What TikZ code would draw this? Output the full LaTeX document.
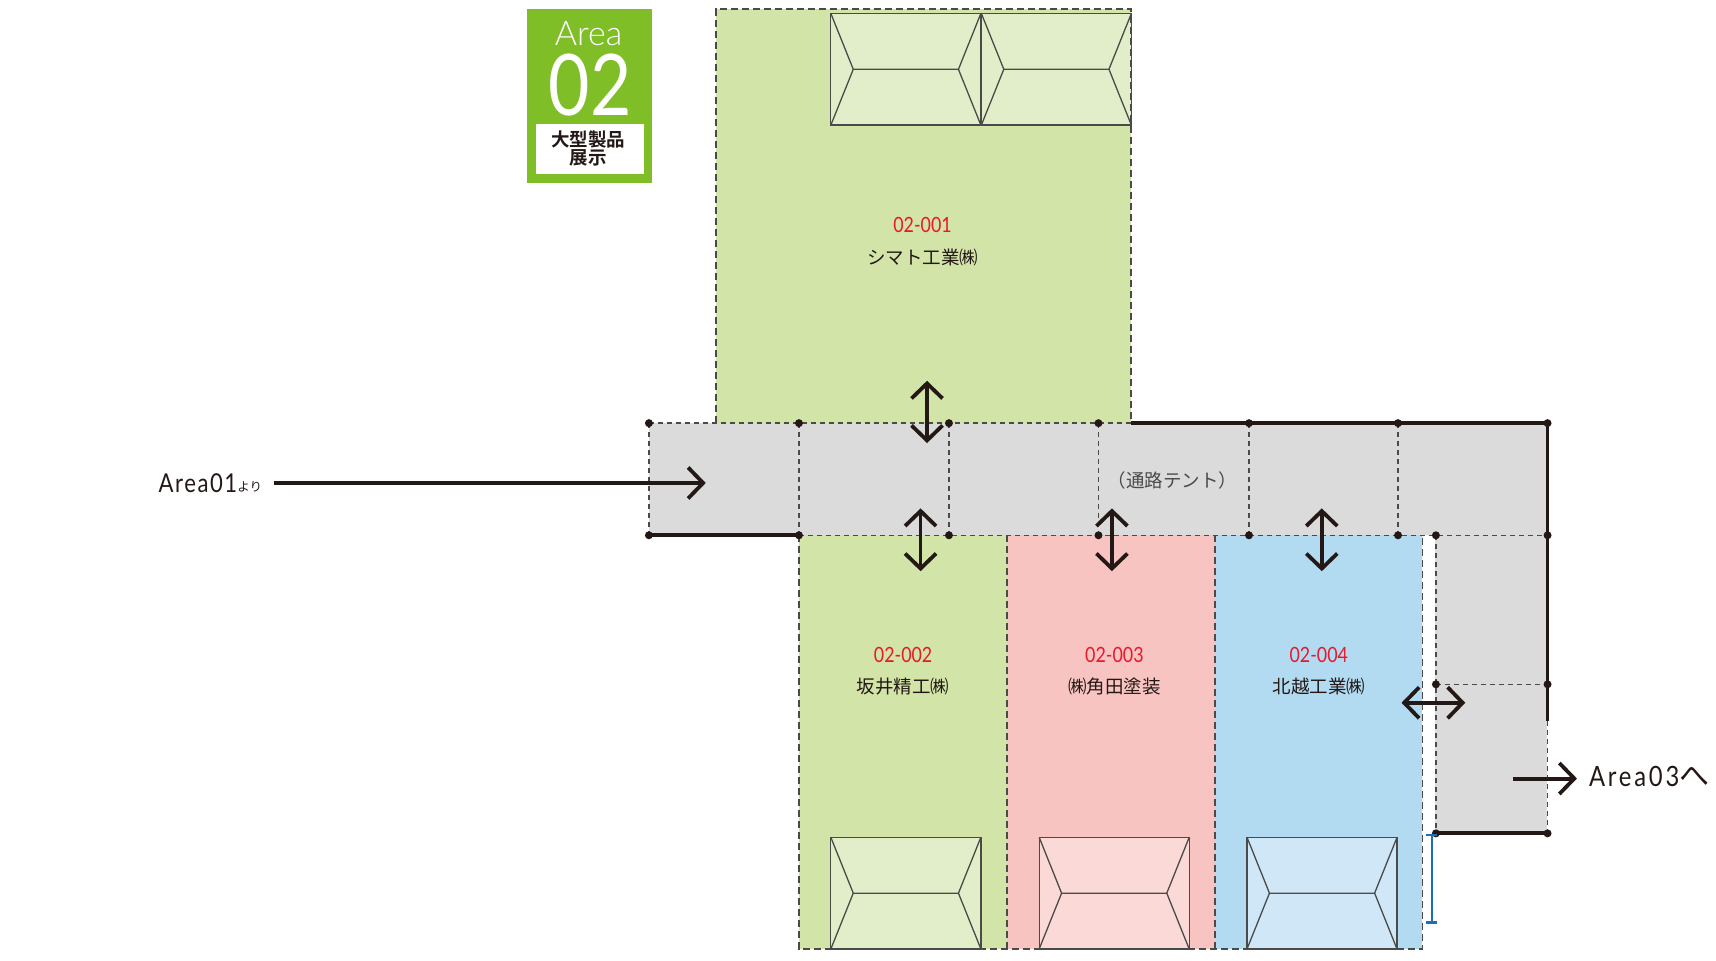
\documentclass[tikz,border=0pt]{standalone}
\usepackage{fontspec}
\usetikzlibrary{arrows.meta}
\setmainfont{Lato}
\newfontfamily\din{Lato Light}
\newfontfamily\dinB{Lato}[FakeStretch=0.84]
\newfontfamily\dinN{Lato}[FakeStretch=0.85]
\newfontfamily\dinC{Lato}[FakeStretch=0.85,LetterSpace=6]
\newfontfamily\dinW{Lato}[FakeStretch=0.85,LetterSpace=10]
\newfontfamily\jp{Noto Sans CJK JP}
\newfontfamily\jpb{Noto Sans CJK JP Bold}
\definecolor{ink}{HTML}{231815}
\definecolor{dashc}{HTML}{4A4A48}
\definecolor{boothg}{HTML}{D2E4A8}
\definecolor{boothp}{HTML}{F7C4C1}
\definecolor{boothb}{HTML}{B2DBF2}
\definecolor{tentg}{HTML}{E2EEC9}
\definecolor{tentp}{HTML}{FAD9D6}
\definecolor{tentb}{HTML}{CFE7F6}
\definecolor{corr}{HTML}{DBDBDB}
\definecolor{badge}{HTML}{7FBE26}
\definecolor{codered}{HTML}{E8192C}
\definecolor{bluebar}{HTML}{1C6FB8}
\tikzset{
  x=0.9968pt,y=-0.9968pt,
  dashline/.style={draw=dashc,line width=1.4pt,dash pattern=on 5pt off 4pt},
  boothline/.style={draw=dashc,line width=1.8pt,dash pattern=on 7pt off 4pt},
  thickline/.style={draw=ink,line width=3.8pt},
  dotmark/.style={circle,fill=ink,inner sep=0pt,minimum size=8pt},
  tentline/.style={draw=dashc,line width=1.3pt},
  flow/.style={draw=ink,line width=4pt,-{Straight Barb[length=15pt,width=31pt,line width=3.8pt]}},
  flowboth/.style={draw=ink,line width=3.8pt,{Straight Barb[length=15pt,width=31pt,line width=3.8pt]}-{Straight Barb[length=15pt,width=31pt,line width=3.8pt]}},
  codelabel/.style={text=codered,inner sep=0pt,font=\dinN\fontsize{21}{21}\selectfont},
  namelabel/.style={text=ink,inner sep=0pt,font=\jp\fontsize{18.5}{20}\selectfont},
}
\newcommand{\tentshape}[3]{% x0, y0, fill
  \fill[#3] (#1,#2) rectangle ++(150.5,112);
  \draw[tentline] (#1,#2) rectangle ++(150.5,112);
  \draw[tentline] (#1,#2) -- ++(22.5,56) -- ++(105.5,0) -- ++(22.5,-56);
  \draw[tentline] (#1,#2+112) -- ++(22.5,-56);
  \draw[tentline] (#1+128,#2+56) -- ++(22.5,56);
}
\begin{document}
\begin{tikzpicture}
\useasboundingbox (0,0) rectangle (1721.5,963.1);
% corridor
\fill[corr] (651,424) rectangle (1552,537);
\fill[corr] (1440,537) rectangle (1552,835.5);
% booths
\fill[boothg] (718,9) rectangle (1135,424);
\fill[boothg] (801.5,537) rectangle (1010,952);
\fill[boothp] (1010,537) rectangle (1219,952);
\fill[boothb] (1219,537) rectangle (1427,952);
\tentshape{833.5}{13.5}{tentg}
\tentshape{984.5}{13.5}{tentg}
\tentshape{833.5}{840}{tentg}
\tentshape{1042.5}{840}{tentp}
\tentshape{1251}{840}{tentb}
% dashed outlines
\draw[boothline] (718,424) -- (718,9) -- (1135,9) -- (1135,424);
\draw[boothline] (801.5,537) -- (801.5,952) -- (1427,952) -- (1427,537);
\draw[boothline] (1010,537) -- (1010,952);
\draw[boothline] (1219,537) -- (1219,952);
% grid coordinates
\foreach \n/\x in {a/651,b/801.5,c/952,d/1102,e/1253,f/1402.5,g/1552.5}{
  \coordinate (t\n) at (\x,424.5);
  \coordinate (m\n) at (\x,537);
}
\coordinate (mh) at (1440.5,537);
\coordinate (qh) at (1440.5,686.5);
\coordinate (qg) at (1552.5,686.5);
\coordinate (ph) at (1440.5,836);
\coordinate (pg) at (1552.5,836);
\coordinate (gend) at (1552.5,723.5);
\coordinate (tj) at (1135,424.5);
\foreach \n in {a,b,c,d,e,f}{\draw[dashline] (t\n) -- (m\n);}
\draw[dashline] (ta) -- (tj);
\draw[dashline] (mb) -- (mg);
\draw[dashline] (mh) -- (ph);
\draw[dashline] (qh) -- (qg);
\draw[dashline] (gend) -- (pg);
% solid walls
\draw[thickline] (ma) -- (mb);
\draw[thickline] (tj) -- (tg) -- (gend);
\draw[thickline] (ph) -- (pg);
\foreach \p in {ta,tb,tc,td,te,tf,tg,ma,mb,mc,md,me,mf,mg,mh,qh,qg,ph,pg}{
  \node[dotmark] at (\p) {};
}
% blue bar
\coordinate (bl1) at (1436.5,838);
\coordinate (bl2) at (1436.5,925.5);
\draw[bluebar,line width=2.2pt] (bl1) -- (bl2);
\draw[bluebar,line width=2.2pt] (1431,838) -- (1442,838);
\draw[bluebar,line width=2.2pt] (1431,925.5) -- (1442,925.5);
% arrows
\coordinate (a1s) at (275,484.5);
\coordinate (a1e) at (708,484.5);
\draw[flow] (a1s) -- (a1e);
\coordinate (a2s) at (1518,781);
\coordinate (a2e) at (1582,781);
\draw[flow] (a2s) -- (a2e);
\draw[flowboth] (930,382) -- (930,444.5);
\draw[flowboth] (923.5,510) -- (923.5,573);
\draw[flowboth] (1115.5,510) -- (1115.5,573);
\draw[flowboth] (1326,510) -- (1326,573);
\draw[flowboth] (1406,705) -- (1470,705);
% labels
\node[codelabel] (c1) at (925.5,226) {02-001};
\node[namelabel] (n1) at (925.5,258) {シマト工業㈱};
\node[codelabel] (c2) at (906,657.5) {02-002};
\node[namelabel] (n2) at (906,689) {坂井精工㈱};
\node[codelabel] (c3) at (1118,657.5) {02-003};
\node[namelabel] (n3) at (1118,689) {㈱角田塗装};
\node[codelabel] (c4) at (1323,657.5) {02-004};
\node[namelabel] (n4) at (1323,689) {北越工業㈱};
\node[namelabel,text=dashc] (tent) at (1176,482.5) {（通路テント）};
\node[inner sep=0pt,anchor=west,text=ink,font=\dinC\fontsize{26}{26}\selectfont] (fromarea) at (159,484.5) {Area01\raisebox{1pt}{\jp\fontsize{12.5}{12.5}\selectfont より}};
\node[inner sep=0pt,anchor=west,text=ink,font=\dinW\fontsize{28}{28}\selectfont] (toarea) at (1594,778.5) {Area03\jp\fontsize{30}{30}\selectfont へ};
% badge
\fill[badge] (529,9) rectangle (654.5,184);
\fill[white] (537.5,124.5) rectangle (646,174.5);
\node[text=white,inner sep=0pt,font=\din\fontsize{34}{34}\selectfont] (ba) at (590.5,34) {Area};
\node[text=white,inner sep=0pt,font=\dinB\fontsize{85}{85}\selectfont] (bn) at (592,85) {02};
\node[text=ink,inner sep=0pt,align=center,font=\jpb\fontsize{18.5}{18.5}\selectfont] (bt) at (590,149) {大型製品\\展示};
\end{tikzpicture}
\end{document}
